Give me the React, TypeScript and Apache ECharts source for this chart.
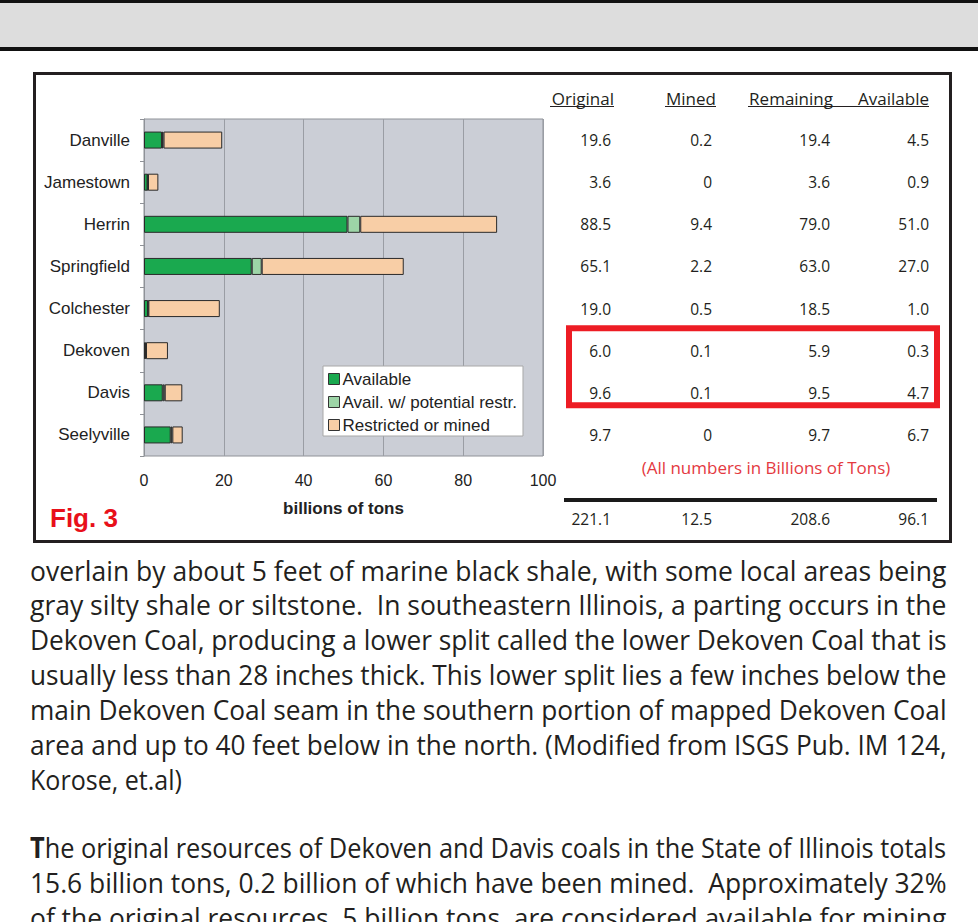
import React, { useEffect, useRef } from "react";
import * as echarts from "echarts";

// ---------- data ----------
const categories = ["Danville", "Jamestown", "Herrin", "Springfield", "Colchester", "Dekoven", "Davis", "Seelyville"];
const availableBar = [4.5, 0.9, 51.0, 27.0, 1.0, 0.3, 4.7, 6.7];
const potentialBar = [0.4, 0.1, 3.2, 2.5, 0.1, 0.2, 0.5, 0.4];
const restrictedBar = [14.7, 2.6, 34.3, 35.6, 17.9, 5.5, 4.4, 2.6];
const seriesNames = ["Available", "Avail. w/ potential restr.", "Restricted or mined"];
const xMin = 0;
const xMax = 100;
const xInterval = 20;

const colHeaders = ["Original", "Mined", "Remaining", "Available"];
const originalCol = ["19.6", "3.6", "88.5", "65.1", "19.0", "6.0", "9.6", "9.7"];
const minedCol = ["0.2", "0", "9.4", "2.2", "0.5", "0.1", "0.1", "0"];
const remainingCol = ["19.4", "3.6", "79.0", "63.0", "18.5", "5.9", "9.5", "9.7"];
const availableCol = ["4.5", "0.9", "51.0", "27.0", "1.0", "0.3", "4.7", "6.7"];
const totalsRow = ["221.1", "12.5", "208.6", "96.1"];
const highlightedRows = ["Dekoven", "Davis"];
const noteText = "(All numbers in Billions of Tons)";
const figLabel = "Fig. 3";
const xAxisName = "billions of tons";

const para1 = [
  "overlain by about 5 feet of marine black shale, with some local areas being",
  "gray silty shale or siltstone.  In southeastern Illinois, a parting occurs in the",
  "Dekoven Coal, producing a lower split called the lower Dekoven Coal that is",
  "usually less than 28 inches thick. This lower split lies a few inches below the",
  "main Dekoven Coal seam in the southern portion of mapped Dekoven Coal",
  "area and up to 40 feet below in the north. (Modified from ISGS Pub. IM 124,",
  "Korose, et.al)",
];
const para2First = "T";
const para2 = [
  "he original resources of Dekoven and Davis coals in the State of Illinois totals",
  "15.6 billion tons, 0.2 billion of which have been mined.  Approximately 32%",
  "of the original resources, 5 billion tons, are considered available for mining",
];

// ---------- styles ----------
const ARIAL = "'Liberation Sans', Arial, sans-serif";
const MYRIAD = "'Open Sans', sans-serif";
const INK = "#231f20";
const BODY_SIZE = 28;

function makeMeasurer() {
  const c = document.createElement("canvas");
  const ctx = c.getContext("2d") as CanvasRenderingContext2D;
  return (text: string, font: string) => {
    ctx.font = font;
    return ctx.measureText(text).width;
  };
}

export default function App() {
  const ref = useRef<HTMLDivElement>(null);

  useEffect(() => {
    if (!ref.current) return;
    const chart = echarts.init(ref.current, null, { renderer: "svg" });
    const barBase = {
      type: "bar",
      stack: "total",
      barWidth: 17,
      itemStyle: { borderColor: "#2a2a2a", borderWidth: 1 },
    };
    chart.setOption({
      animation: false,
      backgroundColor: "#ffffff",
      grid: {
        left: 144,
        top: 119,
        width: 399,
        height: 337,
        show: true,
        backgroundColor: "#cbced6",
        borderColor: "#8f9298",
        borderWidth: 1,
      },
      legend: {
        data: seriesNames,
        orient: "vertical",
        left: 323,
        top: 366,
        backgroundColor: "#ffffff",
        borderColor: "#a8a8a8",
        borderWidth: 1,
        padding: [3, 6, 1, 5],
        itemWidth: 11,
        itemHeight: 11,
        itemGap: 3,
        icon: "rect",
        itemStyle: { borderColor: "#333", borderWidth: 1 },
        textStyle: { fontFamily: ARIAL, fontSize: 17, color: "#222", lineHeight: 20, padding: [0, 0, 0, -2] },
      },
      xAxis: {
        type: "value",
        min: xMin,
        max: xMax,
        interval: xInterval,
        axisLine: { show: false },
        axisTick: { show: false },
        splitLine: { lineStyle: { color: "#9a9da4", width: 1 } },
        axisLabel: { fontFamily: ARIAL, fontSize: 16, color: "#222", margin: 16 },
        name: xAxisName,
        nameLocation: "middle",
        nameGap: 44,
        nameTextStyle: { fontFamily: ARIAL, fontSize: 17, fontWeight: "bold", color: "#222" },
      },
      yAxis: {
        type: "category",
        data: categories,
        inverse: true,
        axisLine: { show: true, lineStyle: { color: "#8f9298" } },
        axisTick: { show: true, length: 4, lineStyle: { color: "#8f9298" } },
        axisLabel: { fontFamily: ARIAL, fontSize: 17, color: "#222", margin: 14 },
        splitLine: { show: false },
      },
      series: [
        { ...barBase, name: seriesNames[0], data: availableBar, itemStyle: { ...barBase.itemStyle, color: "#1aa94f" } },
        { ...barBase, name: seriesNames[1], data: potentialBar, itemStyle: { ...barBase.itemStyle, color: "#9dd5a7" } },
        { ...barBase, name: seriesNames[2], data: restrictedBar, itemStyle: { ...barBase.itemStyle, color: "#f8cea6" } },
      ],
    });

    const rowY = categories.map((c) => chart.convertToPixel({ yAxisIndex: 0 }, c) as number);
    const measure = makeMeasurer();
    const g: any[] = [];

    // top band
    g.push({ type: "rect", shape: { x: 0, y: 0, width: 978, height: 3 }, style: { fill: "#111" } });
    g.push({ type: "rect", shape: { x: 0, y: 3, width: 978, height: 44 }, style: { fill: "#dddddd" } });
    g.push({ type: "rect", shape: { x: 0, y: 47, width: 978, height: 4 }, style: { fill: "#111" } });

    // figure frame
    g.push({
      type: "rect",
      shape: { x: 34.5, y: 73.5, width: 916, height: 468 },
      style: { fill: "none", stroke: INK, lineWidth: 3 },
    });

    // table
    const colRight = [611, 712, 830, 929];
    const headRight = [614, 716, 833, 929];
    const headY = 98;
    colHeaders.forEach((h, i) => {
      g.push({
        type: "text",
        x: headRight[i],
        y: headY,
        style: { text: h, fontFamily: MYRIAD, fontSize: 17, fill: INK, textAlign: "right", textVerticalAlign: "middle" },
      });
    });
    const ulY = 106.5;
    [
      [550, 614],
      [665, 716],
      [748, 929],
    ].forEach(([a, b]) => {
      g.push({ type: "line", shape: { x1: a, y1: ulY, x2: b, y2: ulY }, style: { stroke: INK, lineWidth: 1.2 } });
    });
    const cols = [originalCol, minedCol, remainingCol, availableCol];
    cols.forEach((col, ci) => {
      col.forEach((v, ri) => {
        g.push({
          type: "text",
          x: colRight[ci],
          y: rowY[ri],
          style: { text: v, fontFamily: MYRIAD, fontSize: 15.5, fill: INK, textAlign: "right", textVerticalAlign: "middle" },
        });
      });
    });
    // highlight box
    const yA = rowY[categories.indexOf(highlightedRows[0])];
    const yB = rowY[categories.indexOf(highlightedRows[1])];
    g.push({
      type: "rect",
      shape: { x: 569, y: yA - 22.5, width: 368, height: yB - yA + 35 },
      style: { fill: "none", stroke: "#ed1c24", lineWidth: 6 },
    });
    // note
    g.push({
      type: "text",
      x: 766,
      y: 467,
      style: { text: noteText, fontFamily: MYRIAD, fontSize: 17, fill: "#e4393f", textAlign: "center", textVerticalAlign: "middle" },
    });
    // totals line + totals
    g.push({ type: "line", shape: { x1: 564, y1: 500, x2: 937, y2: 500 }, style: { stroke: "#1a1a1a", lineWidth: 4 } });
    totalsRow.forEach((v, ci) => {
      g.push({
        type: "text",
        x: colRight[ci],
        y: 519,
        style: { text: v, fontFamily: MYRIAD, fontSize: 15.5, fill: INK, textAlign: "right", textVerticalAlign: "middle" },
      });
    });
    // Fig label
    g.push({
      type: "text",
      x: 50,
      y: 518,
      style: { text: figLabel, fontFamily: ARIAL, fontSize: 26, fontWeight: "bold", fill: "#e8101a", textAlign: "left", textVerticalAlign: "middle" },
    });

    // body text
    const bodyFont = `${BODY_SIZE}px 'Open Sans'`;
    const boldFont = `bold ${BODY_SIZE}px 'Open Sans'`;
    const leftX = 30;
    const fullW = 917;
    const korose = measure(para1[para1.length - 1], bodyFont);
    const naturalScale = 152 / korose;
    const p1Y = [570, 604, 639, 674, 709, 744, 779];
    para1.forEach((line, i) => {
      const w = measure(line, bodyFont);
      const last = i === para1.length - 1;
      const s = last ? naturalScale : fullW / w;
      g.push({
        type: "text",
        x: leftX,
        y: p1Y[i],
        scaleX: s,
        style: { text: line, fontFamily: MYRIAD, fontSize: BODY_SIZE, fill: INK, textAlign: "left", textVerticalAlign: "middle" },
      });
    });
    const p2Y = [847, 882, 917];
    para2.forEach((line, i) => {
      if (i === 0) {
        const w = measure(para2First, boldFont) + measure(line, bodyFont);
        g.push({
          type: "text",
          x: leftX,
          y: p2Y[i],
          scaleX: fullW / w,
          style: {
            text: `{b|${para2First}}{n|${line}}`,
            fontFamily: MYRIAD,
            fontSize: BODY_SIZE,
            fill: INK,
            textAlign: "left",
            textVerticalAlign: "middle",
            rich: {
              b: { fontFamily: MYRIAD, fontSize: BODY_SIZE, fontWeight: "bold", fill: INK },
              n: { fontFamily: MYRIAD, fontSize: BODY_SIZE, fill: INK },
            },
          },
        });
      } else {
        const w = measure(line, bodyFont);
        g.push({
          type: "text",
          x: leftX,
          y: p2Y[i],
          scaleX: fullW / w,
          style: { text: line, fontFamily: MYRIAD, fontSize: BODY_SIZE, fill: INK, textAlign: "left", textVerticalAlign: "middle" },
        });
      }
    });

    chart.setOption({ graphic: { elements: g } });

    return () => chart.dispose();
  }, []);

  return <div ref={ref} style={{ position: "absolute", left: 0, top: 0, width: 978, height: 922 }} />;
}
